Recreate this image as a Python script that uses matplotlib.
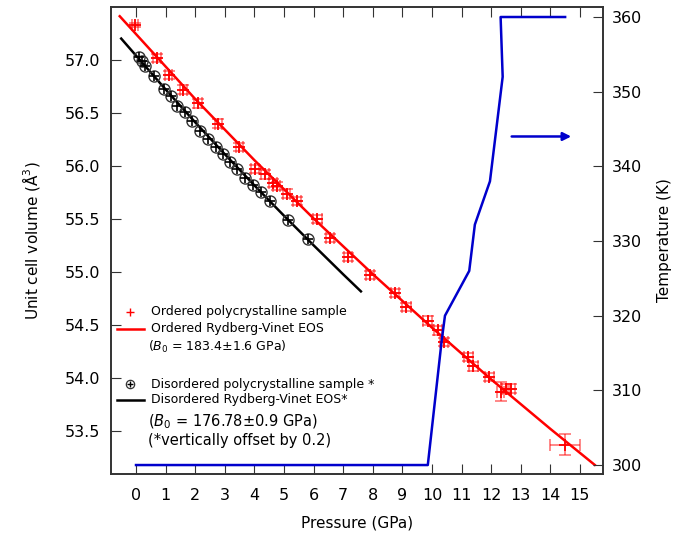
import matplotlib
matplotlib.use('Agg')
import matplotlib.pyplot as plt

# ordered sample (red)
p_ord = [-0.03, 0.72, 1.11, 1.60, 2.10, 2.78, 3.49, 4.02, 4.36, 4.64, 4.75, 5.09, 5.43,
         6.13, 6.55, 7.17, 7.91, 8.75, 9.14, 9.85, 10.21, 10.40, 11.23, 11.40, 11.94,
         12.32, 12.50, 12.68, 14.49]
v_ord = [57.33, 57.02, 56.86, 56.72, 56.59, 56.40, 56.18, 55.97, 55.92, 55.84, 55.81, 55.74, 55.67,
         55.50, 55.32, 55.14, 54.97, 54.80, 54.67, 54.54, 54.45, 54.34, 54.20, 54.11, 54.01,
         53.87, 53.90, 53.90, 53.37]
p_err = [0.10, 0.13, 0.12, 0.13, 0.13, 0.12, 0.12, 0.12, 0.12, 0.13, 0.12, 0.12, 0.13,
         0.14, 0.13, 0.14, 0.14, 0.14, 0.14, 0.14, 0.14, 0.14, 0.15, 0.14, 0.15,
         0.12, 0.12, 0.14, 0.50]
v_err = [0.02, 0.04, 0.04, 0.04, 0.04, 0.04, 0.04, 0.04, 0.04, 0.04, 0.04, 0.04, 0.04,
         0.04, 0.04, 0.04, 0.04, 0.04, 0.04, 0.04, 0.04, 0.04, 0.04, 0.04, 0.04,
         0.09, 0.04, 0.04, 0.10]

# ordered EOS fit
p_fit_ord = [-0.55, 2, 4, 6, 8, 10, 12, 14, 15.5]
v_fit_ord = [57.413, 56.632, 56.055, 55.505, 54.980, 54.475, 53.987, 53.52, 53.18]

# disordered sample (black, offset)
p_dis = [0.10, 0.21, 0.30, 0.61, 0.96, 1.17, 1.40, 1.67, 1.88, 2.16, 2.44, 2.70, 2.95,
         3.18, 3.40, 3.68, 3.94, 4.21, 4.53, 5.12, 5.82]
v_dis = [57.03, 56.99, 56.94, 56.85, 56.73, 56.66, 56.57, 56.51, 56.42, 56.33, 56.25, 56.18, 56.11,
         56.04, 55.97, 55.89, 55.82, 55.75, 55.67, 55.49, 55.31]

p_fit_dis = [-0.5, 1, 2, 3, 4, 5, 6, 7, 7.6]
v_fit_dis = [57.202, 56.722, 56.412, 56.111, 55.817, 55.531, 55.252, 54.978, 54.817]

# temperature
p_temp = [0, 9.86, 10.33, 10.44, 11.26, 11.45, 11.96, 12.39, 12.32, 14.5]
t_temp = [300, 300, 316.7, 320, 326, 332.2, 338, 352, 360, 360]

plt.rcParams['font.family'] = ['DejaVu Sans']
plt.rcParams['mathtext.fontset'] = 'dejavusans'

fig = plt.figure(figsize=(6.88, 5.34), dpi=100)
ax = fig.add_axes([111/688, 1-474/534, 492/688, 467/534])
ax2 = ax.twinx()

red = '#ff0000'
ax.errorbar(p_ord, v_ord, xerr=p_err, yerr=v_err, fmt='none', ecolor=red, alpha=0.55,
            elinewidth=1.2, capsize=4, capthick=1.2, zorder=3)
ax.plot(p_ord, v_ord, '+', color=red, ms=9, mew=1.3, zorder=4)
ax.plot(p_fit_ord, v_fit_ord, '-', color=red, lw=1.8, zorder=2)

ax.plot(p_fit_dis, v_fit_dis, '-', color='black', lw=1.8, zorder=2)
ax.plot(p_dis, v_dis, 'o', mfc='none', mec='#333333', ms=8, mew=1.0, zorder=4)
ax.plot(p_dis, v_dis, '+', color='black', ms=7, mew=1.2, zorder=5)

ax2.plot(p_temp, t_temp, '-', color='#0000cc', lw=1.8)
ax2.annotate('', xy=(14.8, 344), xytext=(12.6, 344),
             arrowprops=dict(arrowstyle='-|>', color='#0000cc', lw=1.8, mutation_scale=12))

ax.set_xlim(-0.845, 15.78)
ax.set_ylim(53.094, 57.5)
ax2.set_ylim(298.8, 361.34)

ax.set_xticks(range(0, 16))
ax.set_yticks([53.5, 54.0, 54.5, 55.0, 55.5, 56.0, 56.5, 57.0])
ax.set_yticklabels(['53.5', '54.0', '54.5', '55.0', '55.5', '56.0', '56.5', '57.0'])
ax2.set_yticks([300, 310, 320, 330, 340, 350, 360])

ax.tick_params(axis='x', direction='in', length=7, top=True, labelsize=11.5, pad=10, color='#333333')
ax.tick_params(axis='y', direction='in', length=7, labelsize=11.5, pad=8, color='#333333')
ax2.tick_params(axis='y', direction='in', length=7, labelsize=11.5, pad=6, color='#333333')
for a in (ax, ax2):
    for s in a.spines.values():
        s.set_color('#333333')
        s.set_linewidth(1.2)

ax.set_xlabel('Pressure (GPa)', fontsize=11, labelpad=9)
ax.set_ylabel('Unit cell volume (Å$^3$)', fontsize=11, labelpad=16)
ax2.set_ylabel('Temperature (K)', fontsize=11, labelpad=11)

# legend drawn by hand
tr = ax.transAxes
ax.plot([0.0386], [0.347], '+', color=red, ms=6, mew=1.0, transform=tr, clip_on=False)
ax.text(0.0807, 0.347, 'Ordered polycrystalline sample', transform=tr, va='center', fontsize=9)
ax.plot([0.0116, 0.0671], [0.3105, 0.3105], '-', color=red, lw=1.8, transform=tr)
ax.text(0.0807, 0.3105, 'Ordered Rydberg-Vinet EOS', transform=tr, va='center', fontsize=9)
ax.text(0.0758, 0.2726, '($B_0$ = 183.4±1.6 GPa)', transform=tr, va='center', fontsize=9)
ax.plot([0.0386], [0.192], 'o', mfc='none', mec='#333333', ms=6, mew=0.9, transform=tr)
ax.plot([0.0386], [0.192], '+', color='black', ms=5, mew=1.0, transform=tr)
ax.text(0.0807, 0.192, 'Disordered polycrystalline sample *', transform=tr, va='center', fontsize=9)
ax.plot([0.0116, 0.0671], [0.1585, 0.1585], '-', color='black', lw=1.8, transform=tr)
ax.text(0.0807, 0.1585, 'Disordered Rydberg-Vinet EOS*', transform=tr, va='center', fontsize=9)
ax.text(0.0758, 0.112, '($B_0$ = 176.78±0.9 GPa)', transform=tr, va='center', fontsize=10.5)
ax.text(0.0758, 0.0707, '(*vertically offset by 0.2)', transform=tr, va='center', fontsize=10.5)

fig.savefig('out.png', dpi=100)
